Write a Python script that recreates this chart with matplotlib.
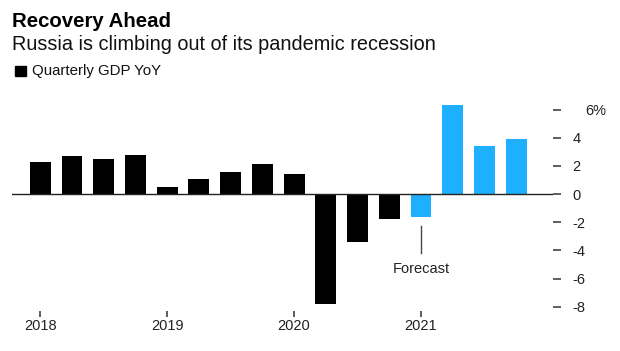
import matplotlib
matplotlib.use("Agg")
import matplotlib.pyplot as plt
import matplotlib.transforms as mtransforms
import numpy as np

plt.rcParams['font.family'] = ['Liberation Sans', 'DejaVu Sans']

# quarterly GDP, year over year %, 2018 Q1 .. 2021 Q4
quarters = [2018 + i / 4 for i in range(16)]
gdp = [2.3, 2.7, 2.5, 2.8, 0.5, 1.1, 1.6, 2.1, 1.4, -7.8, -3.4, -1.8,
       -1.6, 6.3, 3.4, 3.9]
forecast = [False] * 12 + [True] * 4

year_ticks = [2018, 2019, 2020, 2021]
year_labels = ['2018', '2019', '2020', '2021']
y_ticks = [6, 4, 2, 0, -2, -4, -6, -8]
y_labels = ['6%', '4', '2', '0', '-2', '-4', '-6', '-8']

black = '#000000'
blue = '#1fafff'
colors = [blue if f else black for f in forecast]

fig = plt.figure(figsize=(6.2, 3.51), dpi=100)
ax = fig.add_axes([0.0189, 0.114, 0.873, 0.594])

ax.bar(quarters, gdp, width=0.165, color=colors, zorder=2)
ax.axhline(0, color='#222222', lw=1.0, zorder=3)

ax.set_xlim(2017.775, 2022.04)
ax.set_ylim(-8.3, 6.5)

for s in ax.spines.values():
    s.set_visible(False)

ax.yaxis.tick_right()
ax.set_yticks(y_ticks)
ax.set_yticklabels(y_labels)
ax.tick_params(axis='y', direction='out', length=6, width=1.1, pad=8,
               color='#333333', labelcolor='#222222', labelsize=10.5)
for lab in ax.get_yticklabels():
    lab.set_horizontalalignment('left')
    if lab.get_text() == '6%':
        lab.set_transform(lab.get_transform() +
                          mtransforms.ScaledTranslation(13 / 100, 0, fig.dpi_scale_trans))

ax.set_xticks(year_ticks)
ax.set_xticklabels(year_labels)
ax.tick_params(axis='x', direction='out', length=4, width=1.1, pad=2,
               color='#333333', labelcolor='#222222', labelsize=10.5)

# forecast marker
ax.plot([2021, 2021], [-2.3, -4.15], color='#444444', lw=1.0, zorder=3)
ax.text(2021, -5.3, 'Forecast', ha='center', va='center', fontsize=10.5,
        color='#222222')

fig.text(0.019, 1 - 27 / 351, 'Recovery Ahead', fontsize=14.7, fontweight='bold',
         color='#000000', va='baseline')
fig.text(0.019, 1 - 50 / 351, 'Russia is climbing out of its pandemic recession',
         fontsize=14.3, color='#111111', va='baseline')
fig.patches.append(plt.Rectangle((15 / 620, 1 - 76 / 351), 11 / 620, 10 / 351,
                                 transform=fig.transFigure, color='#000000'))
fig.text(32 / 620, 1 - 71 / 351, 'Quarterly GDP YoY', fontsize=10.8,
         color='#111111', va='center')

fig.savefig('out.png', dpi=100)
